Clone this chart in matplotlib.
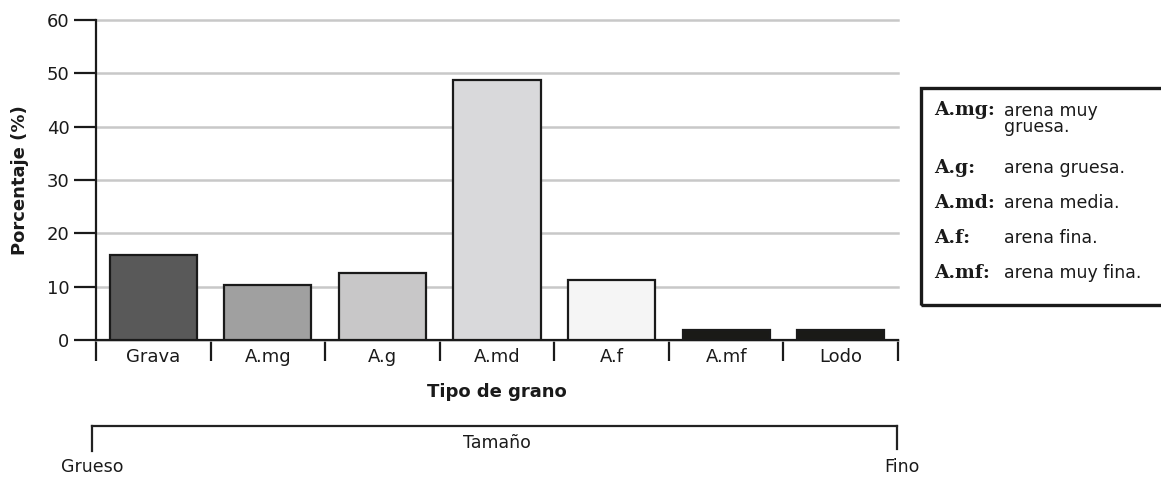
import matplotlib.pyplot as plt
from matplotlib.lines import Line2D
from matplotlib.patches import Rectangle

categories = ["Grava", "A.mg", "A.g", "A.md", "A.f", "A.mf", "Lodo"]
percent = [16, 10.3, 12.6, 48.7, 11.3, 1.8, 1.8]
bar_colors = ["#595959", "#a0a0a0", "#c8c7c8", "#d9d9db", "#f5f5f5", "#1a1a17", "#1a1a17"]
y_ticks = [0, 10, 20, 30, 40, 50, 60]

legend_abbr = ["A.mg:", "A.g:", "A.md:", "A.f:", "A.mf:"]
legend_desc = ["arena muy\ngruesa.", "arena gruesa.", "arena media.", "arena fina.", "arena muy fina."]

W, H = 1161, 478
ink = "#1a1a1a"

fig = plt.figure(figsize=(W / 100, H / 100), dpi=100)

def fx(px):
    return px / W

def fy(py):
    return 1 - py / H

ax = fig.add_axes([fx(96), fy(340), fx(898) - fx(96), fy(20) - fy(340)])

x = list(range(len(categories)))
ax.bar(x, percent, width=0.76, color=bar_colors, edgecolor=ink, linewidth=1.6, zorder=3)

ax.set_xlim(-0.5, len(categories) - 0.5)
ax.set_ylim(0, 60)
ax.set_yticks(y_ticks)
ax.yaxis.grid(True, color="#c8c8c8", linewidth=1.8, zorder=0)
ax.set_axisbelow(True)
for gl in ax.get_ygridlines():
    gl.set_clip_on(False)

for s in ["top", "right"]:
    ax.spines[s].set_visible(False)
for s in ["left", "bottom"]:
    ax.spines[s].set_linewidth(1.6)
    ax.spines[s].set_color(ink)

ax.set_xticks(x)
ax.set_xticklabels(categories)
ax.set_xticks([i - 0.5 for i in range(len(categories) + 1)], minor=True)
ax.tick_params(axis="x", which="major", length=0, pad=6, labelsize=13, labelcolor=ink)
ax.tick_params(axis="x", which="minor", length=15, width=1.6, color=ink, direction="out")
ax.tick_params(axis="y", length=16, width=1.6, color=ink, labelsize=13, labelcolor=ink, pad=3)

fig.text(fx(20), fy(180), "Porcentaje (%)", rotation=90, ha="center", va="center",
         fontsize=13, fontweight="bold", color=ink)
fig.text(fx(497), fy(392), "Tipo de grano", ha="center", va="center",
         fontsize=13, fontweight="bold", color=ink)

# size bracket below the chart
lk = dict(color="#222222", linewidth=1.6, transform=fig.transFigure)
fig.add_artist(Line2D([fx(92), fx(897)], [fy(426), fy(426)], **lk))
fig.add_artist(Line2D([fx(92), fx(92)], [fy(426), fy(451)], **lk))
fig.add_artist(Line2D([fx(897), fx(897)], [fy(426), fy(449)], **lk))
fig.text(fx(497), fy(443), "Tamaño", ha="center", va="center", fontsize=12.5, color=ink)
fig.text(fx(92), fy(467), "Grueso", ha="center", va="center", fontsize=12.5, color=ink)
fig.text(fx(902), fy(467), "Fino", ha="center", va="center", fontsize=12.5, color=ink)

# legend box
fig.add_artist(Rectangle((fx(921), fy(305)), fx(1175) - fx(921), fy(88) - fy(305),
                         transform=fig.transFigure, fill=False, edgecolor=ink, linewidth=2.4))
rows = [110, 168, 203, 238, 273]
for yy, a, d in zip(rows, legend_abbr, legend_desc):
    fig.text(fx(934), fy(yy), a, ha="left", va="center", fontsize=13.5,
             fontweight="bold", family="DejaVu Serif", color=ink)
    if "\n" in d:
        fig.text(fx(1004), fy(yy - 8), d, ha="left", va="top", fontsize=12.5,
                 color=ink, linespacing=0.85)
    else:
        fig.text(fx(1004), fy(yy), d, ha="left", va="center", fontsize=12.5, color=ink)

fig.savefig("out.png", dpi=100)
